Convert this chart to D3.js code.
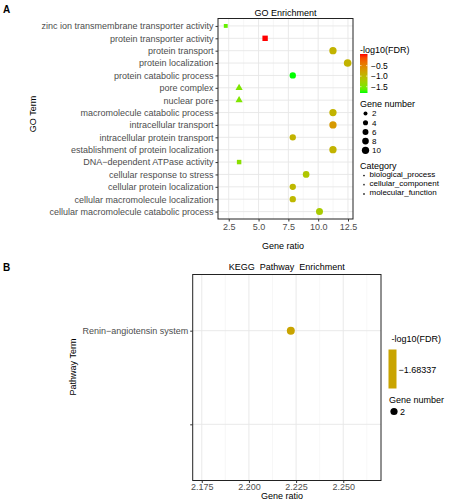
<!DOCTYPE html>
<html><head><meta charset="utf-8">
<script src="https://cdn.jsdelivr.net/npm/d3@7"></script>
<style>body{margin:0;background:#fff}svg{display:block;font-family:"Liberation Sans",Arial,sans-serif}</style>
</head><body>
<svg id="c" width="450" height="500"></svg>
<script>
// ---------- Data: panel A (GO) ----------
const goTerms = [
  "zinc ion transmembrane transporter activity",
  "protein transporter activity",
  "protein transport",
  "protein localization",
  "protein catabolic process",
  "pore complex",
  "nuclear pore",
  "macromolecule catabolic process",
  "intracellular transport",
  "intracellular protein transport",
  "establishment of protein localization",
  "DNA\u2212dependent ATPase activity",
  "cellular response to stress",
  "cellular protein localization",
  "cellular macromolecule localization",
  "cellular macromolecule catabolic process"
];
const goRatio = [2.25, 5.55, 11.24, 12.47, 7.87, 3.37, 3.37, 11.24, 11.24, 7.87, 11.24, 3.37, 8.99, 7.87, 7.87, 10.11];
const goCount = [2, 5, 10, 11, 7, 3, 3, 10, 10, 7, 10, 3, 8, 7, 7, 9];
const goFDR   = [-1.62, 0.05, -0.95, -0.95, -1.80, -1.50, -1.50, -0.95, -0.70, -0.95, -0.95, -1.43, -1.15, -1.0, -1.0, -1.2];
const goCategory = ["molecular_function","molecular_function","biological_process","biological_process","biological_process",
  "cellular_component","cellular_component","biological_process","biological_process","biological_process",
  "biological_process","molecular_function","biological_process","biological_process","biological_process","biological_process"];
const categories = ["biological_process","cellular_component","molecular_function"];
const goXTicks = [2.5, 5.0, 7.5, 10.0, 12.5];
const goXMinor = [3.75, 6.25, 8.75, 11.25];
const fdrTicks = [-0.5, -1.0, -1.5];
const sizeTicks = [2, 4, 6, 8, 10];

// ---------- Data: panel B (KEGG) ----------
const keggLevels = ["Renin\u2212angiotensin system", ""];
const keggTerms = ["Renin\u2212angiotensin system"];
const keggRatio = [2.2222];
const keggCount = [2];
const keggFDR = [-1.68337];
const keggXTicks = [2.175, 2.200, 2.225, 2.250];
const keggXMinor = [2.1875, 2.2125, 2.2375, 2.2625];

const svg = d3.select("#c");
const grey = "#4d4d4d";
const fs = 9;
const lfs = 8;

// ---------- Panel A ----------
const A = {l: 218, r: 353, t: 18.5, b: 219};
const xA = d3.scaleLinear().domain([1.6, 12.92]).range([A.l, A.r]);
const yA = d3.scalePoint().domain(goTerms).range([A.t, A.b]).padding(0.6);
const colA = d3.scaleLinear().domain([-1.80, 0.05]).range(["#00ff00", "#ff0000"]).interpolate(d3.interpolateLab);
const rA = d3.scaleSqrt().domain([2, 11]).range([2, 3.8]);
const shapeOf = {biological_process: d3.symbolCircle, cellular_component: d3.symbolTriangle, molecular_function: d3.symbolSquare};
const shapeK = {biological_process: 1, cellular_component: 1.35, molecular_function: 1.2};

const gA = svg.append("g");
gA.selectAll(".vmin").data(goXMinor).join("line")
  .attr("x1", d => xA(d)).attr("x2", d => xA(d)).attr("y1", A.t).attr("y2", A.b)
  .attr("stroke", "#f2f2f2").attr("stroke-width", 0.6);
gA.selectAll(".vmaj").data(goXTicks).join("line")
  .attr("x1", d => xA(d)).attr("x2", d => xA(d)).attr("y1", A.t).attr("y2", A.b)
  .attr("stroke", "#e6e6e6").attr("stroke-width", 0.9);
gA.selectAll(".hmaj").data(goTerms).join("line")
  .attr("x1", A.l).attr("x2", A.r).attr("y1", d => yA(d)).attr("y2", d => yA(d))
  .attr("stroke", "#e6e6e6").attr("stroke-width", 0.9);

gA.selectAll(".pt").data(goTerms).join("path")
  .attr("transform", (d, i) => `translate(${xA(goRatio[i])},${yA(d)})`)
  .attr("d", (d, i) => d3.symbol().type(shapeOf[goCategory[i]]).size(Math.PI * rA(goCount[i]) ** 2 * shapeK[goCategory[i]])())
  .attr("fill", (d, i) => colA(goFDR[i]));

gA.append("rect").attr("x", A.l).attr("y", A.t).attr("width", A.r - A.l).attr("height", A.b - A.t)
  .attr("fill", "none").attr("stroke", "#222").attr("stroke-width", 1);

const axYA = gA.append("g").attr("transform", `translate(${A.l},0)`)
  .call(d3.axisLeft(yA).tickSize(2.5).tickPadding(2));
const axXA = gA.append("g").attr("transform", `translate(0,${A.b})`)
  .call(d3.axisBottom(xA).tickValues(goXTicks).tickFormat(d3.format(".1f")).tickSize(2.5).tickPadding(2));
[axYA, axXA].forEach(ax => {
  ax.select(".domain").remove();
  ax.selectAll(".tick line").attr("stroke", "#333");
  ax.selectAll(".tick text").attr("fill", grey).attr("font-size", fs).attr("font-family", null);
});

svg.append("text").attr("x", (A.l + A.r) / 2).attr("y", 13).attr("text-anchor", "middle").attr("dy", "0.35em")
  .attr("font-size", fs).text("GO Enrichment");
svg.append("text").attr("x", 283).attr("y", 246).attr("text-anchor", "middle").attr("dy", "0.35em")
  .attr("font-size", fs).text("Gene ratio");
svg.append("text").attr("transform", "translate(33,114) rotate(-90)").attr("text-anchor", "middle").attr("dy", "0.35em")
  .attr("font-size", fs).text("GO Term");
svg.append("text").attr("x", 3).attr("y", 13).attr("font-size", 10).attr("font-weight", "bold").text("A");

// legend A: color bar
const defs = svg.append("defs");
const grad = defs.append("linearGradient").attr("id", "gA").attr("x1", 0).attr("x2", 0).attr("y1", 1).attr("y2", 0);
d3.range(0, 1.0001, 0.1).forEach(t => {
  const v = colA.domain()[0] + t * (colA.domain()[1] - colA.domain()[0]);
  grad.append("stop").attr("offset", t).attr("stop-color", colA(v));
});
const cbA = {x: 360, w: 7.5, top: 54, bot: 93};
const cbScaleA = d3.scaleLinear().domain(colA.domain()).range([cbA.bot, cbA.top]);
svg.append("text").attr("x", 360).attr("y", 50).attr("dy", "0.35em").attr("font-size", fs).text("-log10(FDR)");
svg.append("rect").attr("x", cbA.x).attr("y", cbA.top).attr("width", cbA.w).attr("height", cbA.bot - cbA.top).attr("fill", "url(#gA)");
fdrTicks.forEach(v => {
  const y = cbScaleA(v);
  svg.append("line").attr("x1", cbA.x).attr("x2", cbA.x + 1.5).attr("y1", y).attr("y2", y).attr("stroke", "#fff").attr("stroke-width", 0.6);
  svg.append("line").attr("x1", cbA.x + cbA.w - 1.5).attr("x2", cbA.x + cbA.w).attr("y1", y).attr("y2", y).attr("stroke", "#fff").attr("stroke-width", 0.6);
  svg.append("text").attr("x", 371).attr("y", y).attr("dy", "0.35em").attr("font-size", lfs + 0.5).text(d3.format(".1f")(v).replace("-", "\u2212"));
});
// legend A: size
svg.append("text").attr("x", 360).attr("y", 104).attr("dy", "0.35em").attr("font-size", fs).text("Gene number");
const sizeY = [113.5, 122.7, 131.9, 141.1, 150.3];
sizeTicks.forEach((v, i) => {
  svg.append("circle").attr("cx", 365.5).attr("cy", sizeY[i]).attr("r", rA(v)).attr("fill", "#000");
  svg.append("text").attr("x", 372).attr("y", sizeY[i]).attr("dy", "0.35em").attr("font-size", lfs).text(v);
});
// legend A: category
svg.append("text").attr("x", 360).attr("y", 166).attr("dy", "0.35em").attr("font-size", fs).text("Category");
const catY = [174, 183.2, 192.4];
categories.forEach((c, i) => {
  svg.append("path").attr("transform", `translate(364,${catY[i] + 1.5})`)
    .attr("d", d3.symbol().type(shapeOf[c]).size(2.2)()).attr("fill", "#000");
  svg.append("text").attr("x", 369.5).attr("y", catY[i]).attr("dy", "0.35em").attr("font-size", lfs).text(c);
});

// ---------- Panel B ----------
const B = {l: 192.7, r: 381, t: 274.5, b: 480.5};
const xB = d3.scaleLinear().domain([2.1702, 2.27]).range([B.l, B.r]);
const yB = d3.scalePoint().domain(keggLevels).range([B.t, B.b]).padding(0.6);
const colB = d3.scaleLinear().domain([keggFDR[0] - 1, keggFDR[0] + 1]).range(["#c9a400", "#c9a400"]);
const rB = d3.scaleSqrt().domain([keggCount[0], keggCount[0]]).range([4, 4]);

const gB = svg.append("g");
gB.selectAll(".vmin").data(keggXMinor.filter(d => d < xB.domain()[1])).join("line")
  .attr("x1", d => xB(d)).attr("x2", d => xB(d)).attr("y1", B.t).attr("y2", B.b)
  .attr("stroke", "#f2f2f2").attr("stroke-width", 0.6);
gB.selectAll(".vmaj").data(keggXTicks).join("line")
  .attr("x1", d => xB(d)).attr("x2", d => xB(d)).attr("y1", B.t).attr("y2", B.b)
  .attr("stroke", "#e6e6e6").attr("stroke-width", 0.9);
gB.selectAll(".hmaj").data(keggLevels).join("line")
  .attr("x1", B.l).attr("x2", B.r).attr("y1", d => yB(d)).attr("y2", d => yB(d))
  .attr("stroke", "#e6e6e6").attr("stroke-width", 0.9);
gB.selectAll(".pt").data(keggTerms).join("circle")
  .attr("cx", (d, i) => xB(keggRatio[i])).attr("cy", d => yB(d))
  .attr("r", (d, i) => rB(keggCount[i])).attr("fill", (d, i) => colB(keggFDR[i]));
gB.append("rect").attr("x", B.l).attr("y", B.t).attr("width", B.r - B.l).attr("height", B.b - B.t)
  .attr("fill", "none").attr("stroke", "#222").attr("stroke-width", 1);
const axYB = gB.append("g").attr("transform", `translate(${B.l},0)`)
  .call(d3.axisLeft(yB).tickSize(2.5).tickPadding(2));
const axXB = gB.append("g").attr("transform", `translate(0,${B.b})`)
  .call(d3.axisBottom(xB).tickValues(keggXTicks).tickFormat(d3.format(".3f")).tickSize(2.5).tickPadding(1));
[axYB, axXB].forEach(ax => {
  ax.select(".domain").remove();
  ax.selectAll(".tick line").attr("stroke", "#333");
  ax.selectAll(".tick text").attr("fill", grey).attr("font-size", fs).attr("font-family", null);
});
svg.append("text").attr("x", (B.l + B.r) / 2).attr("y", 267).attr("text-anchor", "middle").attr("dy", "0.35em")
  .attr("font-size", fs).style("white-space", "pre").text("KEGG  Pathway  Enrichment");
svg.append("text").attr("x", 282).attr("y", 496).attr("text-anchor", "middle").attr("dy", "0.35em")
  .attr("font-size", fs).text("Gene ratio");
svg.append("text").attr("transform", "translate(73,367) rotate(-90)").attr("text-anchor", "middle").attr("dy", "0.35em")
  .attr("font-size", fs).text("Pathway Term");
svg.append("text").attr("x", 3).attr("y", 271).attr("font-size", 10).attr("font-weight", "bold").text("B");

// legend B
svg.append("text").attr("x", 391.5).attr("y", 339).attr("dy", "0.35em").attr("font-size", fs).text("-log10(FDR)");
svg.append("rect").attr("x", 388.5).attr("y", 349.5).attr("width", 8).attr("height", 39).attr("fill", colB(keggFDR[0]));
svg.append("text").attr("x", 398.5).attr("y", 370).attr("dy", "0.35em").attr("font-size", fs)
  .text(String(keggFDR[0]).replace("-", "\u2212"));
svg.append("text").attr("x", 389).attr("y", 400).attr("dy", "0.35em").attr("font-size", fs).text("Gene number");
svg.append("circle").attr("cx", 394).attr("cy", 411.5).attr("r", 3.6).attr("fill", "#000");
svg.append("text").attr("x", 400).attr("y", 411.5).attr("dy", "0.35em").attr("font-size", fs).text(keggCount[0]);
</script>
</body></html>
